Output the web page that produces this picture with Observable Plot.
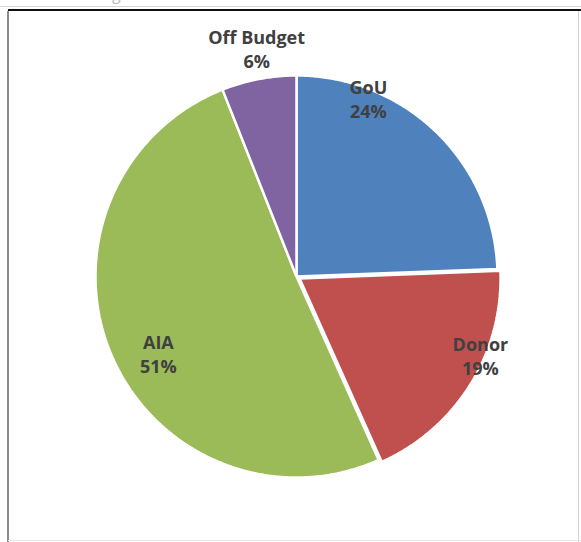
<!DOCTYPE html>
<html>
<head>
<meta charset="utf-8">
<script src="https://cdn.jsdelivr.net/npm/d3@7"></script>
<script src="https://cdn.jsdelivr.net/npm/@observablehq/plot@0.6"></script>
<style>
  html, body { margin: 0; padding: 0; background: #fff; }
  #wrap { position: relative; width: 581px; height: 542px; overflow: hidden; }
  #chart { position: absolute; left: 0; top: 0; }
  .topline { position: absolute; left: 8px; right: 0; top: 9px; height: 2px; background: #111; }
  .grayline { position: absolute; left: 0; right: 0; top: 6px; height: 1px; background: #d4d4d4; }
  .leftline { position: absolute; left: 7px; top: 11px; bottom: 0; width: 2px; background: #8a8a8a; }
  .rightline { position: absolute; right: 2px; top: 11px; bottom: 0; width: 1px; background: #d0d0d0; }
  .bottomline { position: absolute; left: 8px; right: 0; bottom: 1px; height: 1px; background: #e6e6e6; }
  .cut { position: absolute; left: 82px; top: -17px; font: 16px "Open Sans", sans-serif; color: #bdbdbd; }
</style>
</head>
<body>
<div id="wrap">
  <div class="cut">Budget</div>
  <div class="grayline"></div>
  <div class="topline"></div>
  <div class="leftline"></div>
  <div class="rightline"></div>
  <div class="bottomline"></div>
  <div id="chart"></div>
</div>
<script>
// ---- data ----
const categories = ["GoU", "Donor", "AIA", "Off Budget"];
const shares = [24.4, 18.9, 50.7, 6.0];        // percent
const shareLabels = ["24%", "19%", "51%", "6%"];

// ---- style / layout ----
const colors = ["#4F81BD", "#C0504D", "#9BBB59", "#8064A2"];
const explode = [0, 0.018, 0, 0];                // radial offset (in radius units)
const labelPolar = [[22.2, 0.946], [113.8, 1.0], [240.2, 0.792], [-10.0, 1.142]]; // [deg from top, radius]

// build slice outlines from the pie layout
const pie = d3.pie().sort(null).value(d => d.value)(
  categories.map((c, i) => ({label: c, value: shares[i], i}))
);
const slicePts = [];
pie.forEach(p => {
  const i = p.data.i;
  const mid = (p.startAngle + p.endAngle) / 2;
  const ox = explode[i] * Math.sin(mid), oy = explode[i] * Math.cos(mid);
  slicePts.push({label: p.data.label, x: ox, y: oy});
  const n = Math.max(2, Math.ceil((p.endAngle - p.startAngle) / (Math.PI / 360)));
  for (let k = 0; k <= n; k++) {
    const a = p.startAngle + (p.endAngle - p.startAngle) * k / n;
    slicePts.push({label: p.data.label, x: ox + Math.sin(a), y: oy + Math.cos(a)});
  }
});

const labels = categories.map((c, i) => {
  const a = labelPolar[i][0] * Math.PI / 180, r = labelPolar[i][1];
  return {text: c + "\n" + shareLabels[i], x: r * Math.sin(a), y: r * Math.cos(a)};
});

const cx = 296, cy = 276, R = 201;
const chart = Plot.plot({
  width: 581,
  height: 542,
  margin: 0,
  x: {domain: [-1, 1], range: [cx - R, cx + R], axis: null},
  y: {domain: [-1, 1], range: [cy + R, cy - R], axis: null},
  color: {domain: categories, range: colors},
  style: {background: "transparent"},
  marks: [
    Plot.line(slicePts, {
      x: "x", y: "y", z: "label", fill: "label",
      stroke: "white", strokeWidth: 2.5, strokeLinejoin: "miter",
      curve: "linear-closed"
    }),
    Plot.text(labels, {
      x: "x", y: "y", text: "text", dy: -2,
      fill: "#404040", fontSize: 18, fontWeight: "bold",
      fontFamily: "'Open Sans', sans-serif", lineHeight: 1.34
    })
  ]
});
document.getElementById("chart").appendChild(chart);
</script>
</body>
</html>
